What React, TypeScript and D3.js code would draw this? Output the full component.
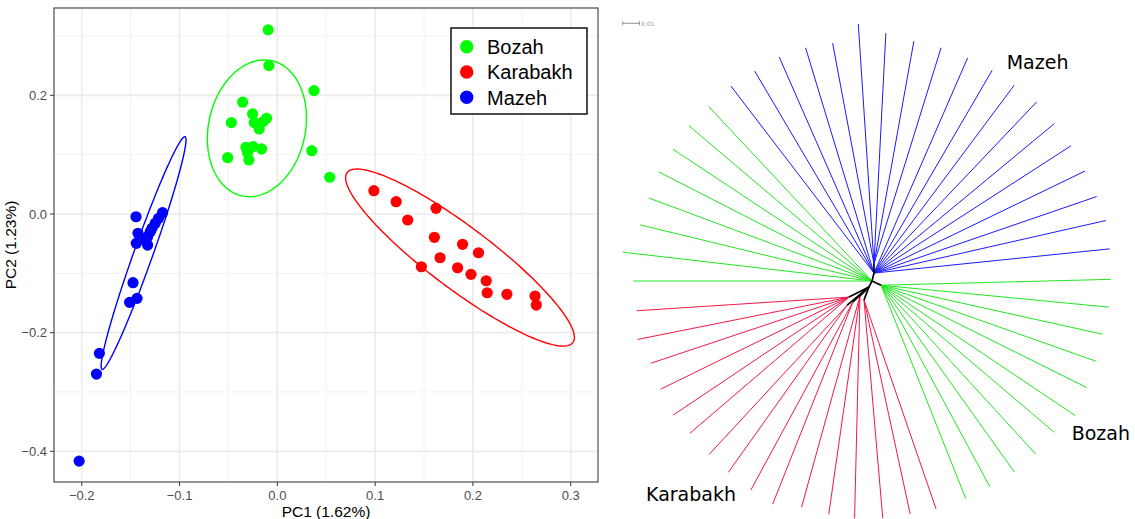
import React from 'react';
import * as d3 from 'd3';

// ---------------- PCA data ----------------
const groups = ['Bozah', 'Karabakh', 'Mazeh'];
const groupColors = ['#00ff00', '#ff0000', '#0000ff'];

const bozahPC1 = [-0.0094, -0.0087, 0.0375, -0.0355, -0.0471, -0.0253, -0.0236, -0.011, -0.0186, -0.0145, -0.0508, -0.0321, -0.0247, -0.0161, -0.0291, -0.0304, 0.0352, 0.0535];
const bozahPC2 = [0.3103, 0.2501, 0.2079, 0.1884, 0.154, 0.1686, 0.154, 0.1614, 0.1433, 0.1557, 0.0949, 0.1125, 0.1135, 0.1096, 0.0911, 0.1034, 0.1067, 0.0619];

const karabakhPC1 = [0.0987, 0.1215, 0.1623, 0.1333, 0.1606, 0.1894, 0.2057, 0.1664, 0.1473, 0.1843, 0.198, 0.2136, 0.2146, 0.2347, 0.2635, 0.2648];
const karabakhPC2 = [0.0393, 0.0207, 0.0096, -0.0101, -0.0393, -0.0511, -0.0653, -0.0737, -0.0889, -0.0906, -0.1017, -0.1125, -0.1327, -0.1354, -0.1383, -0.1535];

const mazehPC1 = [-0.1445, -0.1174, -0.1215, -0.1249, -0.1282, -0.13, -0.1425, -0.1327, -0.1351, -0.1442, -0.1327, -0.1476, -0.1435, -0.1511, -0.182, -0.185, -0.2027];
const mazehPC2 = [-0.0046, 0.0022, -0.0073, -0.0157, -0.0241, -0.0298, -0.0325, -0.0383, -0.0438, -0.0494, -0.0523, -0.1158, -0.1422, -0.1489, -0.2349, -0.2698, -0.4165];

// ellipse: centre and (scaled) covariance [sxx, syy, sxy] per group
const ellipseCenterX = [-0.0209, 0.1868, -0.1368];
const ellipseCenterY = [0.1444, -0.0734, -0.0658];
const ellipseSxx = [0.002567, 0.013683, 0.001883];
const ellipseSyy = [0.013286, 0.022272, 0.038485];
const ellipseSxy = [0.000882, -0.015729, 0.00827];

const xTicks = [-0.2, -0.1, 0.0, 0.1, 0.2, 0.3];
const yTicks = [-0.4, -0.2, 0.0, 0.2];
const xMinor = [-0.15, -0.05, 0.05, 0.15, 0.25];
const yMinor = [-0.3, -0.1, 0.1, 0.3];
const xDomain = [-0.2284, 0.3279];
const yDomain = [-0.4517, 0.3472];

// ---------------- Tree data ----------------
const nodeIds = ['root', 'B', 'B2', 'K', 'K1', 'K2', 'K3', 'K4', 'K5', 'G2'];
const nodeParent = ['', 'root', 'B', 'root', 'K', 'K', 'K', 'K', 'K', 'root'];
const nodeAngle = [0, 76, 90, -117, -135, -137, -111, -153, -140, -25];
const nodeLength = [0, 0.0049, 0.0055, 0.004, 0.0076, 0.0131, 0.0083, 0.0134, 0.017, 0.006];

// leaves: group index (0 Bozah, 1 Karabakh, 2 Mazeh), parent, angle (deg), length from root
const leafGroup = [
  2, 2, 2, 2, 2, 2, 2, 2, 2, 2, 2, 2, 2, 2, 2, 2, 2, 2, 2,
  0, 0, 0, 0, 0, 0, 0, 0, 0, 0, 0,
  1, 1, 1, 1, 1, 1, 1, 1, 1, 1, 1, 1, 1, 1, 1, 1,
  0, 0, 0, 0, 0, 0, 0, 0,
];
const leafParent = [
  'B', 'B', 'B', 'B', 'B2', 'B2', 'B2', 'B2', 'B2', 'B', 'B', 'B', 'B', 'B', 'B', 'B', 'B', 'B', 'B',
  'G2', 'G2', 'G2', 'G2', 'G2', 'G2', 'G2', 'G2', 'G2', 'G2', 'G2',
  'K3', 'K3', 'K3', 'K1', 'K1', 'K1', 'K2', 'K2', 'K5', 'K5', 'K4', 'K4', 'K4', 'K4', 'K4', 'K4',
  'root', 'root', 'root', 'root', 'root', 'root', 'root', 'root',
];
const leafAngle = [
  125.9, 119.2, 112.5, 105.9, 99.4, 93.05, 86.8, 80.1, 73.5, 66.8, 60.3, 54.0, 47.4, 40.8, 34.2, 27.3, 20.6, 14.5, 7.7,
  0.4, -6.3, -13.0, -19.7, -26.4, -33.5, -39.7, -46.6, -53.3, -60.2, -66.7,
  -74.3, -80.7, -87.4, -94.2, -100.5, -107.3, -114.0, -120.1, -126.9, -133.2, -140.1, -146.0, -152.9, -159.6, -166.0, -172.8,
  180, 173.4, 166.4, 159.6, 152.9, 146.5, 139.7, 133.1,
];
const leafLength = [
  0.1442, 0.144, 0.1452, 0.1452, 0.1444, 0.1541, 0.1486, 0.1457, 0.1457, 0.1454, 0.1452, 0.1449, 0.1456, 0.1442, 0.1441, 0.1435, 0.1437, 0.1446, 0.1436,
  0.1431, 0.1426, 0.1416, 0.1425, 0.1436, 0.1459, 0.1419, 0.1426, 0.1426, 0.1423, 0.142,
  0.1418, 0.1414, 0.1422, 0.1425, 0.1421, 0.1419, 0.1463, 0.1447, 0.1433, 0.1425, 0.1421, 0.1435, 0.1421, 0.1414, 0.1446, 0.142,
  0.1429, 0.1503, 0.1429, 0.1426, 0.1435, 0.1431, 0.1438, 0.1429,
];
const treeGroupLabels = ['Bozah', 'Karabakh', 'Mazeh'];
const treeColors = ['#22e622', '#f01848', '#1a1aff'];
const scaleBarValue = 0.01;
const scaleBarLabel = '0.01';

const W = 1135;
const H = 519;

export default function App() {
  const panel = { left: 54, right: 598, top: 8, bottom: 482 };
  const x = d3.scaleLinear().domain(xDomain).range([panel.left, panel.right]);
  const y = d3.scaleLinear().domain(yDomain).range([panel.bottom, panel.top]);

  const series = [
    { xs: bozahPC1, ys: bozahPC2 },
    { xs: karabakhPC1, ys: karabakhPC2 },
    { xs: mazehPC1, ys: mazehPC2 },
  ];

  const line = d3.line<[number, number]>().x((d) => x(d[0])).y((d) => y(d[1])).curve(d3.curveLinearClosed);
  const ellipsePaths = groups.map((_, g) => {
    const l11 = Math.sqrt(ellipseSxx[g]);
    const l21 = ellipseSxy[g] / l11;
    const l22 = Math.sqrt(ellipseSyy[g] - l21 * l21);
    const pts: [number, number][] = d3.range(0, 200).map((i) => {
      const t = (i / 200) * Math.PI * 2;
      return [ellipseCenterX[g] + l11 * Math.cos(t), ellipseCenterY[g] + l21 * Math.cos(t) + l22 * Math.sin(t)];
    });
    return line(pts) as string;
  });

  const fmt = (v: number) => {
    const s = Math.abs(v).toFixed(1);
    return v < -1e-9 ? '\u2212' + s : s;
  };

  // tree layout
  const root = { x: 872, y: 281 };
  const ts = d3.scaleLinear().domain([0, scaleBarValue]).range([0, 16.7]);
  const nodePos: Record<string, { x: number; y: number }> = {};
  nodeIds.forEach((id, i) => {
    if (!nodeParent[i]) {
      nodePos[id] = { x: root.x, y: root.y };
    } else {
      const p = nodePos[nodeParent[i]];
      const a = (nodeAngle[i] * Math.PI) / 180;
      nodePos[id] = { x: p.x + ts(nodeLength[i]) * Math.cos(a), y: p.y - ts(nodeLength[i]) * Math.sin(a) };
    }
  });
  const leaves = leafAngle.map((ang, i) => {
    const a = (ang * Math.PI) / 180;
    const tip = { x: root.x + ts(leafLength[i]) * Math.cos(a), y: root.y - ts(leafLength[i]) * Math.sin(a) };
    return { from: nodePos[leafParent[i]], tip, color: treeColors[leafGroup[i]] };
  });

  const sans = 'Liberation Sans, Arial, sans-serif';

  return (
    <svg width={W} height={H} style={{ position: 'absolute', left: 0, top: 0, background: '#fff' }}>
      <rect x={0} y={0} width={W} height={H} fill="#fff" />
      {/* grid */}
      <g>
        {xMinor.map((v) => (
          <line key={'xm' + v} x1={x(v)} x2={x(v)} y1={panel.top} y2={panel.bottom} stroke="#f2f2f2" strokeWidth={1} />
        ))}
        {yMinor.map((v) => (
          <line key={'ym' + v} y1={y(v)} y2={y(v)} x1={panel.left} x2={panel.right} stroke="#f2f2f2" strokeWidth={1} />
        ))}
        {xTicks.map((v) => (
          <line key={'xg' + v} x1={x(v)} x2={x(v)} y1={panel.top} y2={panel.bottom} stroke="#ebebeb" strokeWidth={1.6} />
        ))}
        {yTicks.map((v) => (
          <line key={'yg' + v} y1={y(v)} y2={y(v)} x1={panel.left} x2={panel.right} stroke="#ebebeb" strokeWidth={1.6} />
        ))}
      </g>
      {/* ellipses */}
      {ellipsePaths.map((d, g) => (
        <path key={'e' + g} d={d} fill="none" stroke={groupColors[g]} strokeWidth={1.4} />
      ))}
      {/* points */}
      {series.map((s, g) =>
        s.xs.map((v, i) => <circle key={g + '-' + i} cx={x(v)} cy={y(s.ys[i])} r={5.6} fill={groupColors[g]} />)
      )}
      {/* panel border */}
      <rect x={panel.left} y={panel.top} width={panel.right - panel.left} height={panel.bottom - panel.top} fill="none" stroke="#4d4d4d" strokeWidth={1.2} />
      {/* ticks */}
      {xTicks.map((v) => (
        <g key={'xt' + v}>
          <line x1={x(v)} x2={x(v)} y1={panel.bottom} y2={panel.bottom + 4} stroke="#333" strokeWidth={1} />
          <text x={x(v)} y={500} fontSize={13} fill="#4d4d4d" textAnchor="middle" fontFamily={sans}>
            {fmt(v)}
          </text>
        </g>
      ))}
      {yTicks.map((v) => (
        <g key={'yt' + v}>
          <line x1={panel.left - 4} x2={panel.left} y1={y(v)} y2={y(v)} stroke="#333" strokeWidth={1} />
          <text x={47} y={y(v)} dy="0.35em" fontSize={13} fill="#4d4d4d" textAnchor="end" fontFamily={sans}>
            {fmt(v)}
          </text>
        </g>
      ))}
      <text x={(panel.left + panel.right) / 2} y={517} fontSize={15.5} textAnchor="middle" fontFamily={sans} fill="#000">
        PC1 (1.62%)
      </text>
      <text
        transform={`translate(15.5, ${(panel.top + panel.bottom) / 2}) rotate(-90)`}
        fontSize={15.5}
        textAnchor="middle"
        fontFamily={sans}
        fill="#000"
      >
        PC2 (1.23%)
      </text>
      {/* legend */}
      <g>
        <rect x={451} y={28} width={136} height={86} fill="#fff" stroke="#000" strokeWidth={1.4} />
        {groups.map((g, i) => (
          <g key={'lg' + g}>
            <circle cx={466.7} cy={46.7 + i * 25.3} r={6.7} fill={groupColors[i]} />
            <text x={487} y={46.7 + i * 25.3} dy="0.36em" fontSize={20} fontFamily={sans} fill="#000">
              {g}
            </text>
          </g>
        ))}
      </g>

      {/* ---------- tree ---------- */}
      <g>
        {leaves.map((l, i) => (
          <line key={'lf' + i} x1={l.from.x} y1={l.from.y} x2={l.tip.x} y2={l.tip.y} stroke={l.color} strokeWidth={1} />
        ))}
        {nodeIds.map((id, i) =>
          nodeParent[i] ? (
            <line
              key={'nd' + id}
              x1={nodePos[nodeParent[i]].x}
              y1={nodePos[nodeParent[i]].y}
              x2={nodePos[id].x}
              y2={nodePos[id].y}
              stroke="#000"
              strokeWidth={1.7}
            />
          ) : null
        )}
        {/* scale bar */}
        <g stroke="#777" strokeWidth={0.8}>
          <line x1={622.7} x2={622.7 + ts(scaleBarValue)} y1={23.3} y2={23.3} />
          <line x1={622.7} x2={622.7} y1={21.3} y2={25.3} />
          <line x1={622.7 + ts(scaleBarValue)} x2={622.7 + ts(scaleBarValue)} y1={21.3} y2={25.3} />
        </g>
        <text x={641} y={25.6} fontSize={6} fill="#999" fontFamily="DejaVu Sans">
          {scaleBarLabel}
        </text>
        <text x={1006.7} y={68.7} fontSize={19} fontFamily="DejaVu Sans" fill="#000">
          {treeGroupLabels[2]}
        </text>
        <text x={1071.7} y={440} fontSize={19} fontFamily="DejaVu Sans" fill="#000">
          {treeGroupLabels[0]}
        </text>
        <text x={646} y={500.7} fontSize={19} fontFamily="DejaVu Sans" fill="#000">
          {treeGroupLabels[1]}
        </text>
      </g>
    </svg>
  );
}
